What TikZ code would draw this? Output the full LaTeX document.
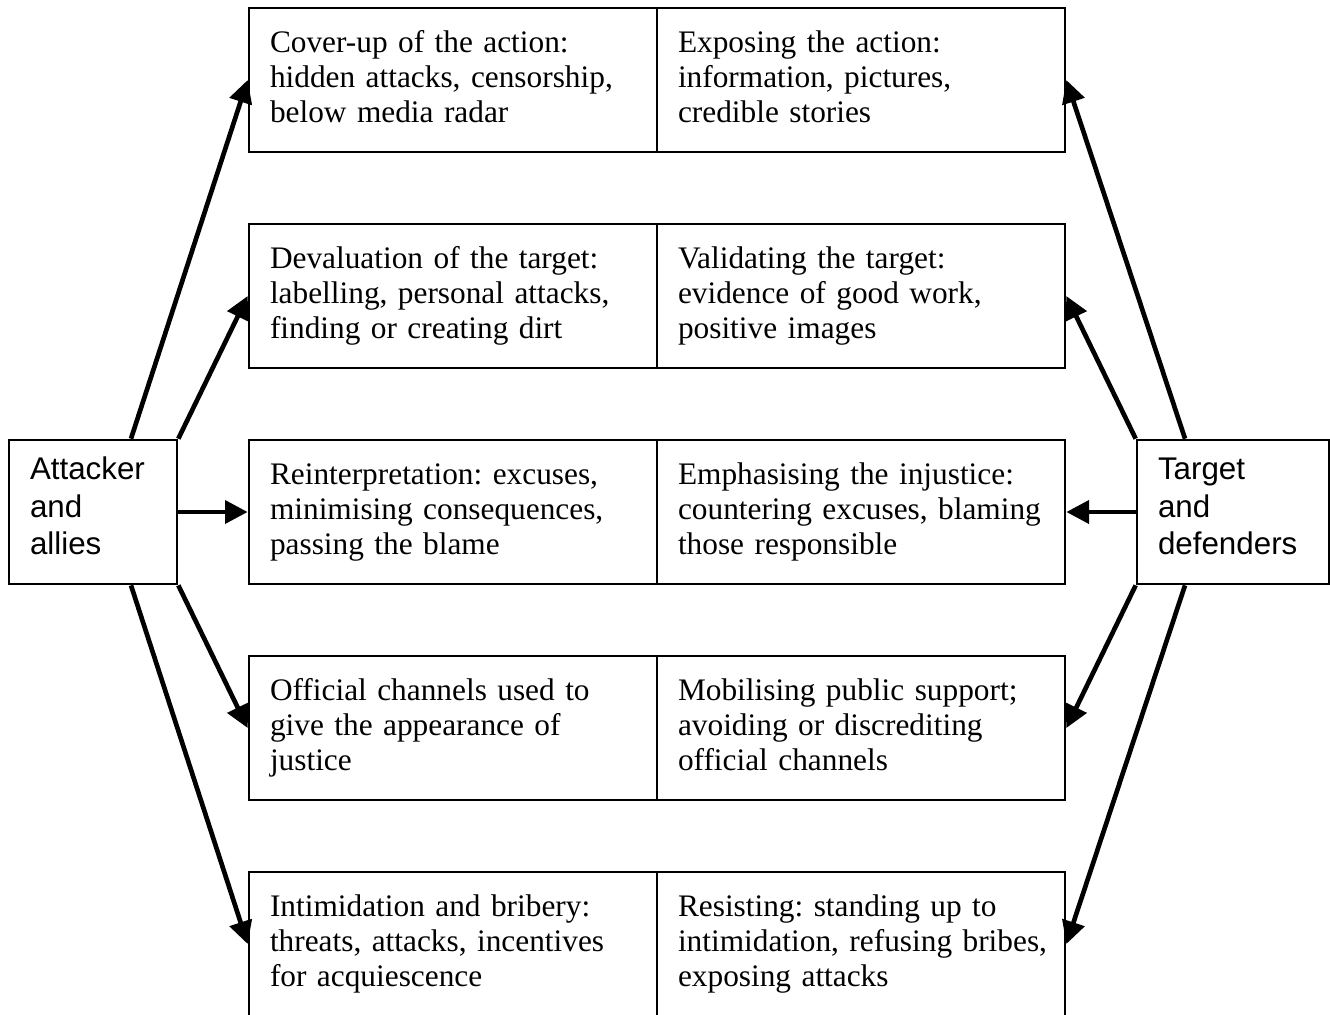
\documentclass[tikz,border=0pt]{standalone}
\usepackage{fontspec}
\setmainfont{Liberation Serif}
\newfontfamily\sidefont{Liberation Sans}
\frenchspacing
\hyphenpenalty=10000
\hfuzz=20pt
\usetikzlibrary{arrows.meta,calc}

\tikzset{
  half/.style={draw, line width=2pt, inner sep=0pt, minimum width=306pt, minimum height=108pt,
    text width=274.5pt, align=left, text height=16pt, text depth=58pt,
    font=\fontsize{23.5}{26.25}\selectfont},
  side/.style={draw, line width=2pt, inner sep=0pt, minimum height=108pt,
    align=left, text height=16pt, text depth=65pt,
    font=\sidefont\fontsize{23.5}{28.3}\selectfont},
  arr/.style={line width=3.5pt, -{Triangle[length=17pt,width=17pt]}}
}

\begin{document}
\begin{tikzpicture}[x=0.75pt,y=-0.75pt]

\def\xl{453}
\def\xr{861}
%        \draw[style=help lines, step=100] (0,0) grid (1330,1014);
\useasboundingbox (0,0) rectangle (1330,1014);

\node[half] (l1) at (\xl,80) {Cover-up of the action:\\hidden attacks, censorship,\\below media radar};
\node[half] (r1) at (\xr,80) {Exposing the action:\\information, pictures,\\credible stories};
\node[half] (l2) at (\xl,296) {Devaluation of the target:\\labelling, personal attacks,\\finding or creating dirt};
\node[half] (r2) at (\xr,296) {Validating the target:\\evidence of good work,\\positive images};
\node[half] (l3) at (\xl,512) {Reinterpretation: excuses,\\minimising consequences,\\passing the blame};
\node[half] (r3) at (\xr,512) {Emphasising the injustice:\\countering~excuses,~blaming\\those responsible};
\node[half] (l4) at (\xl,728) {Official channels used to\\give the appearance of\\justice};
\node[half] (r4) at (\xr,728) {Mobilising public support;\\avoiding or discrediting\\official channels};
\node[half] (l5) at (\xl,944) {Intimidation and bribery:\\threats,~attacks,~incentives\\for acquiescence};
\node[half] (r5) at (\xr,944) {Resisting: standing up to\\intimidation,~refusing~bribes,\\exposing attacks};

\node[side, minimum width=126pt, text width=94.5pt] (att) at (93,512) {Attacker\\and\\allies};
\node[side, minimum width=144pt, text width=112.5pt] (tgt) at (1233,512) {Target\\and\\defenders};

\draw[arr] ($(att.north)+(38,0)$) -- (l1.west);
\draw[arr] (att.north east) -- (l2.west);
\draw[arr] (att.east) -- (l3.west);
\draw[arr] (att.south east) -- (l4.west);
\draw[arr] ($(att.south)+(38,0)$) -- (l5.west);

\draw[arr] ($(tgt.north)+(-48,0)$) -- (r1.east);
\draw[arr] (tgt.north west) -- (r2.east);
\draw[arr] (tgt.west) -- (r3.east);
\draw[arr] (tgt.south west) -- (r4.east);
\draw[arr] ($(tgt.south)+(-48,0)$) -- (r5.east);

\end{tikzpicture}
\end{document}
